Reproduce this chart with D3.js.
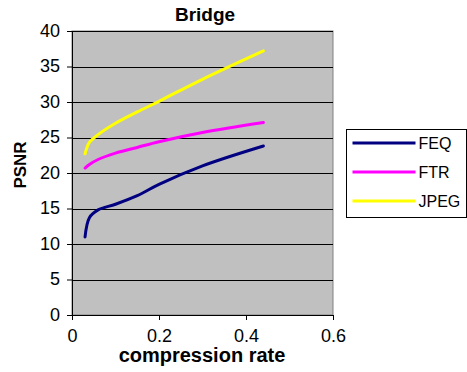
<!DOCTYPE html>
<html>
<head>
<meta charset="utf-8">
<script src="https://cdn.jsdelivr.net/npm/d3@7"></script>
<style>
  body { margin: 0; background: #fff; }
  text { font-family: "Liberation Sans", Arial, sans-serif; fill: #000; }
</style>
</head>
<body>
<script>
// data
const rates = [0.03, 0.04, 0.06, 0.1, 0.15, 0.2, 0.3, 0.44];
const feq = [11.0, 13.7, 14.8, 15.6, 16.8, 18.4, 21.0, 23.8];
const ftr = [20.7, 21.2, 21.9, 22.8, 23.6, 24.4, 25.7, 27.1];
const jpeg = [22.7, 24.3, 25.4, 27.0, 28.6, 30.1, 33.2, 37.2];
const seriesNames = ["FEQ", "FTR", "JPEG"];
const seriesColors = ["#000080", "#ff00ff", "#ffff00"];
const xTicks = [0, 0.2, 0.4, 0.6];
const yTicks = [0, 5, 10, 15, 20, 25, 30, 35, 40];

const width = 467, height = 372;
const marginLeft = 72, marginTop = 31;
const plotW = 261, plotH = 284;

const svg = d3.select("body").append("svg")
    .attr("width", width)
    .attr("height", height);

const xScale = d3.scaleLinear().domain([0, 0.6]).range([0, plotW]);
const yScale = d3.scaleLinear().domain([0, 40]).range([plotH, 0]);

const g = svg.append("g")
    .attr("transform", "translate(" + marginLeft + "," + marginTop + ")");

// plot background
g.append("rect")
    .attr("x", 0).attr("y", 0)
    .attr("width", plotW).attr("height", plotH)
    .attr("fill", "#c0c0c0")
    .attr("stroke", "#808080")
    .attr("stroke-width", 1);

// gridlines
g.selectAll(".grid")
    .data(yTicks.filter(d => d > 0))
    .enter().append("line")
    .attr("x1", 0).attr("x2", plotW)
    .attr("y1", d => Math.round(yScale(d)) + 0.5)
    .attr("y2", d => Math.round(yScale(d)) + 0.5)
    .attr("stroke", "#000")
    .attr("stroke-width", 1);

// y axis
const yAxis = g.append("g")
    .call(d3.axisLeft(yScale).tickValues(yTicks).tickSize(5).tickPadding(7).tickFormat(d3.format("d")));
yAxis.select(".domain").attr("stroke", "#000");
yAxis.selectAll("text")
    .attr("font-size", "18px")
    .attr("dy", "0.3em");

// x axis
const xAxis = g.append("g")
    .attr("transform", "translate(0," + plotH + ")")
    .call(d3.axisBottom(xScale).tickValues(xTicks).tickSize(5).tickPadding(9).tickFormat(d => d === 0 ? "0" : d3.format(".1f")(d)));
xAxis.selectAll("text")
    .attr("font-size", "18px");

// lines
const line = d3.line()
    .x(d => xScale(d[0]))
    .y(d => yScale(d[1]))
    .curve(d3.curveCatmullRom.alpha(0.5));

const allSeries = [feq, ftr, jpeg];
allSeries.forEach((vals, i) => {
    g.append("path")
        .datum(rates.map((r, j) => [r, vals[j]]))
        .attr("fill", "none")
        .attr("stroke", seriesColors[i])
        .attr("stroke-width", 3)
        .attr("stroke-linecap", "round")
        .attr("d", line);
});

// title
svg.append("text")
    .attr("x", 205)
    .attr("y", 21)
    .attr("text-anchor", "middle")
    .attr("font-size", "19px")
    .attr("font-weight", "bold")
    .text("Bridge");

// axis titles
svg.append("text")
    .attr("x", 202)
    .attr("y", 362)
    .attr("text-anchor", "middle")
    .attr("font-size", "20px")
    .attr("font-weight", "bold")
    .text("compression rate");

svg.append("text")
    .attr("transform", "translate(26,165) rotate(-90)")
    .attr("text-anchor", "middle")
    .attr("font-size", "17px")
    .attr("font-weight", "bold")
    .text("PSNR");

// legend
const legend = svg.append("g")
    .attr("transform", "translate(346.5,129.5)");
legend.append("rect")
    .attr("width", 120).attr("height", 88)
    .attr("fill", "#fff")
    .attr("stroke", "#000")
    .attr("stroke-width", 1);

seriesNames.forEach((name, i) => {
    const yy = 13.5 + i * 29;
    legend.append("line")
        .attr("x1", 6).attr("x2", 69)
        .attr("y1", yy).attr("y2", yy)
        .attr("stroke", seriesColors[i])
        .attr("stroke-width", 3);
    legend.append("text")
        .attr("x", 72)
        .attr("y", yy)
        .attr("dy", "0.36em")
        .attr("font-size", "16px")
        .text(name);
});
</script>
</body>
</html>
